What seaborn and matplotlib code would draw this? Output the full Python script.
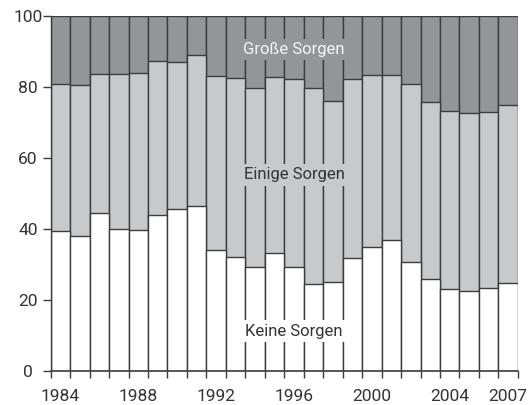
import matplotlib
matplotlib.use("Agg")
import matplotlib.pyplot as plt
import seaborn as sns
import pandas as pd

# Anteile in Prozent je Jahr
years = ["1984", "1985", "1986", "1987", "1988", "1989", "1990", "1991",
         "1992", "1993", "1994", "1995", "1996", "1997", "1998", "1999",
         "2000", "2001", "2002", "2003", "2004", "2005", "2006", "2007"]
keine = [39.4, 38.1, 44.4, 39.9, 39.6, 44.0, 45.6, 46.4, 34.1, 32.0, 29.2, 33.3,
         29.3, 24.4, 25.1, 31.8, 34.9, 37.0, 30.8, 26.0, 23.0, 22.5, 23.3, 24.7]
einige = [41.5, 42.5, 39.1, 43.8, 44.4, 43.3, 41.4, 42.5, 49.0, 50.6, 50.6, 49.5,
          52.8, 55.4, 50.9, 50.5, 48.5, 46.2, 49.9, 49.7, 50.2, 50.1, 49.6, 50.2]
grosse = [19.1, 19.4, 16.5, 16.3, 16.0, 12.7, 13.0, 11.1, 16.9, 17.4, 20.2, 17.2,
          17.9, 20.2, 24.0, 17.7, 16.6, 16.8, 19.3, 24.3, 26.8, 27.4, 27.1, 25.1]

label_years = ["1984", "1988", "1992", "1996", "2000", "2004", "2007"]

df = pd.DataFrame({"year": years, "keine": keine, "einige": einige, "grosse": grosse})
df["mid"] = df["keine"] + df["einige"]
df["top"] = df["mid"] + df["grosse"]

sns.set_style("ticks")
plt.rcParams["font.family"] = ["Roboto", "DejaVu Sans"]

dark = "#949598"
light = "#c8c9cb"
edge = "#3c3c3c"
textc = "#333333"

fig = plt.figure(figsize=(5.29, 4.05), dpi=100)
ax = fig.add_axes([0.0958, 0.084, 0.979 - 0.0958, 0.961 - 0.084])

for col, c in [("top", dark), ("mid", light), ("keine", "white")]:
    sns.barplot(data=df, x="year", y=col, color=c, width=1.0, saturation=1,
                edgecolor=edge, linewidth=1.0, ax=ax)

ax.set_xlim(-0.5, len(years) - 0.5)
ax.set_ylim(0, 100)
ax.set_xlabel("")
ax.set_ylabel("")

ax.set_xticks([years.index(y) for y in label_years])
ax.set_xticklabels(label_years)
ax.set_xticks([i - 0.5 for i in range(len(years) + 1)], minor=True)
ax.tick_params(axis="x", which="major", length=0, pad=13, labelsize=12.5, labelcolor=textc)
ax.tick_params(axis="x", which="minor", length=5, width=1.0, color=edge)

ax.set_yticks([0, 20, 40, 60, 80, 100])
ax.tick_params(axis="y", length=5.5, width=1.0, color=edge, pad=11,
               labelsize=12.5, labelcolor=textc)
for lab in ax.get_yticklabels():
    lab.set_horizontalalignment("center")

sns.despine(ax=ax, top=True, right=True)
ax.spines["bottom"].set_color(edge)
ax.spines["bottom"].set_linewidth(1.2)
ax.spines["left"].set_color(edge)
ax.spines["left"].set_linewidth(1.0)

mid_x = years.index("1996")
ax.text(mid_x, 89.2, "Große Sorgen", ha="center", va="baseline", fontsize=12,
        color="#f4f4f4", zorder=5,
        bbox=dict(boxstyle="square,pad=0.2", fc=dark, ec="none"))
ax.text(mid_x, 54.0, "Einige Sorgen", ha="center", va="baseline", fontsize=12,
        color=textc, zorder=5,
        bbox=dict(boxstyle="square,pad=0.2", fc=light, ec="none"))
ax.text(mid_x, 9.9, "Keine Sorgen", ha="center", va="baseline", fontsize=12,
        color=textc, zorder=5,
        bbox=dict(boxstyle="square,pad=0.2", fc="white", ec="none"))

fig.savefig("out.png", dpi=100)
